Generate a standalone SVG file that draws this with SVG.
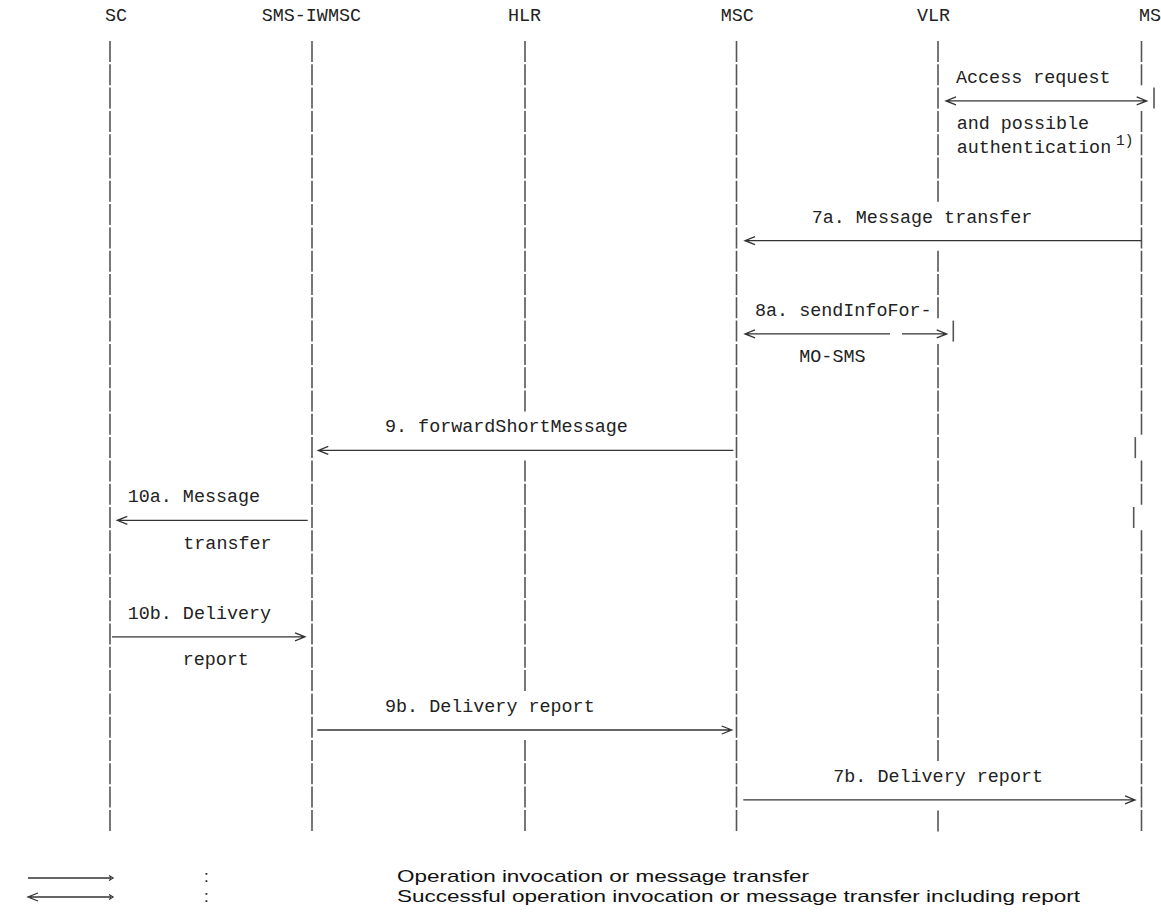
<svg xmlns="http://www.w3.org/2000/svg" width="1161" height="916" viewBox="0 0 1161 916">
<style>
.t{font-family:"Liberation Mono","Courier New",monospace;font-size:18.4px;fill:#222}
.s{font-family:"Liberation Mono","Courier New",monospace;font-size:14.5px;fill:#222}
.lg{font-family:"Liberation Sans",Arial,sans-serif;font-size:17px;fill:#111}
.ll{stroke:#555;stroke-width:1.6;stroke-dasharray:21 2.3;fill:none}
.sg{stroke:#555;stroke-width:1.6;fill:none}
.ar{stroke:#333;stroke-width:1.3;fill:none}
</style>
<rect width="1161" height="916" fill="#fff"/>
<g id="node-sc">
<text class="t" x="105" y="20.7">SC</text>
<line class="ll" x1="110" y1="41" x2="110" y2="831.6"/>
</g>
<g id="node-smsiwmsc">
<text class="t" x="261.7" y="20.7">SMS-IWMSC</text>
<line class="ll" x1="312" y1="41" x2="312" y2="831.6"/>
</g>
<g id="node-hlr">
<text class="t" x="508" y="20.7">HLR</text>
<line class="ll" x1="525" y1="41" x2="525" y2="411.5"/>
<line class="ll" x1="525" y1="460.4" x2="525" y2="691.4"/>
<line class="ll" x1="525" y1="740" x2="525" y2="831.6"/>
</g>
<g id="node-msc">
<text class="t" x="720.7" y="20.7">MSC</text>
<line class="ll" x1="736.5" y1="41" x2="736.5" y2="831.6"/>
</g>
<g id="node-vlr">
<text class="t" x="917" y="20.7">VLR</text>
<line class="ll" x1="938" y1="41" x2="938" y2="202.8"/>
<line class="ll" x1="938" y1="250.7" x2="938" y2="318.3"/>
<line class="sg" x1="953.3" y1="320.6" x2="953.3" y2="341.6"/>
<line class="ll" x1="938" y1="343.9" x2="938" y2="761"/>
<line class="ll" x1="938" y1="810.6" x2="938" y2="831.6"/>
</g>
<g id="node-ms">
<text class="t" x="1139" y="20.7">MS</text>
<line class="ll" x1="1141.5" y1="41" x2="1141.5" y2="85.3"/>
<line class="sg" x1="1154" y1="87.6" x2="1154" y2="108.6"/>
<line class="ll" x1="1141.5" y1="110.9" x2="1141.5" y2="434.8"/>
<line class="sg" x1="1135.3" y1="437.1" x2="1135.3" y2="458.1"/>
<line class="ll" x1="1141.5" y1="460.4" x2="1141.5" y2="504.7"/>
<line class="sg" x1="1133.7" y1="507" x2="1133.7" y2="528"/>
<line class="ll" x1="1141.5" y1="530.3" x2="1141.5" y2="831.6"/>
</g>
<g id="labels">
<text class="t" x="956" y="82.8">Access request</text>
<text class="t" x="956.7" y="129.4">and possible</text>
<text class="t" x="956.7" y="152.7">authentication</text>
<text class="s" x="1116" y="145">1)</text>
<text class="t" x="811.7" y="222.6">7a. Message transfer</text>
<text class="t" x="755" y="315.8">8a. sendInfoFor-</text>
<text class="t" x="799.3" y="362.4">MO-SMS</text>
<text class="t" x="385" y="432.3">9. forwardShortMessage</text>
<text class="t" x="127.7" y="502.2">10a. Message</text>
<text class="t" x="183.3" y="548.8">transfer</text>
<text class="t" x="127.7" y="618.7">10b. Delivery</text>
<text class="t" x="182.7" y="665.3">report</text>
<text class="t" x="385" y="711.9">9b. Delivery report</text>
<text class="t" x="833.3" y="781.8">7b. Delivery report</text>
</g>
<g id="connectors">
<path class="ar" d="M948 100.9H1145M956 96.9L946 100.9L956 104.9M1136.7 96.9L1146.7 100.9L1136.7 104.9"/>
<path class="ar" d="M747 240.7H1141.5M755 236.7L745 240.7L755 244.7"/>
<path class="ar" d="M747 333.9H890M902 333.9H945M755 329.9L745 333.9L755 337.9M936.7 329.9L946.7 333.9L936.7 337.9"/>
<path class="ar" d="M320 450.4H733.3M328.3 446.4L318.3 450.4L328.3 454.4"/>
<path class="ar" d="M119 520.3H307.7M127.3 516.3L117.3 520.3L127.3 524.3"/>
<path class="ar" d="M112 636.8H303M295 632.8L305 636.8L295 640.8"/>
<path class="ar" d="M317.3 730H730M721.7 726L731.7 730L721.7 734"/>
<path class="ar" d="M743.3 799.9H1133M1125 795.9L1135 799.9L1125 803.9"/>
</g>
<g id="legend">
<path class="ar" d="M28 878H111M109 875.5L113 878L109 880.5"/>
<path class="ar" d="M30 897H111M38 893L28 897L38 901M109 894.5L113 897L109 899.5"/>
<text class="lg" x="204" y="882">:</text>
<text class="lg" x="204" y="902">:</text>
<text class="lg" x="397" y="882" textLength="412" lengthAdjust="spacingAndGlyphs">Operation invocation or message transfer</text>
<text class="lg" x="397" y="902" textLength="683" lengthAdjust="spacingAndGlyphs">Successful operation invocation or message transfer including report</text>
</g>
</svg>
